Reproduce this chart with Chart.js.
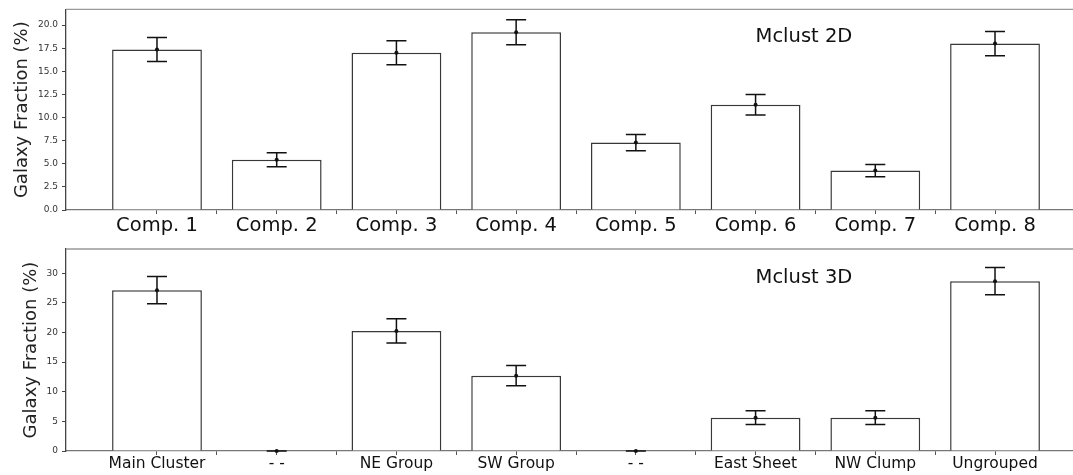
<!DOCTYPE html>
<html>
<head>
<meta charset="utf-8">
<script src="https://cdn.jsdelivr.net/npm/chart.js@4/dist/chart.umd.min.js"></script>
<style>
  html, body { margin: 0; padding: 0; background: #fff; width: 1073px; height: 475px; overflow: hidden; }
  .panel { position: absolute; left: 0; }
  #panel2d { top: 0; }
  #panel3d { top: 237px; }
</style>
</head>
<body>
<div class="panel" id="panel2d"><canvas id="chart2d" width="1086" height="237"></canvas></div>
<div class="panel" id="panel3d"><canvas id="chart3d" width="1086" height="238"></canvas></div>
<script>
// Mclust 2D components: galaxy fraction (%) and its uncertainty
const comps2d = ['Comp. 1', 'Comp. 2', 'Comp. 3', 'Comp. 4', 'Comp. 5', 'Comp. 6', 'Comp. 7', 'Comp. 8'];
const frac2d  = [17.37, 5.44, 17.0, 19.23, 7.3, 11.39, 4.26, 18.0];
const err2d   = [1.3, 0.75, 1.3, 1.36, 0.88, 1.1, 0.66, 1.32];
const yTicks2d = [0, 2.5, 5, 7.5, 10, 12.5, 15, 17.5, 20];

// Mclust 3D groups: galaxy fraction (%) and its uncertainty
const groups3d = ['Main Cluster', '- -', 'NE Group', 'SW Group', '- -', 'East Sheet', 'NW Clump', 'Ungrouped'];
const frac3d   = [27.14, 0, 20.27, 12.72, 0, 5.63, 5.63, 28.66];
const err3d    = [2.3, 0, 2.05, 1.7, 0, 1.15, 1.15, 2.3];
const yTicks3d = [0, 5, 10, 15, 20, 25, 30];

const FONT = 'DejaVu Sans';

// Error bars with caps and a centre dot, drawn in data space
const errorBars = {
  id: 'errorBars',
  afterDatasetsDraw(chart, args, opts) {
    const { ctx } = chart;
    const xs = chart.scales.x, ys = chart.scales.y;
    ctx.save();
    ctx.strokeStyle = '#111';
    ctx.fillStyle = '#111';
    ctx.lineWidth = 1.5;
    opts.values.forEach((v, i) => {
      const e = opts.errors[i];
      const x = xs.getPixelForValue(i);
      const yHi = ys.getPixelForValue(v + e);
      const yLo = ys.getPixelForValue(v - e);
      const cap = 10;
      ctx.beginPath();
      ctx.moveTo(x, yHi); ctx.lineTo(x, yLo);
      ctx.moveTo(x - cap, yHi); ctx.lineTo(x + cap, yHi);
      ctx.moveTo(x - cap, yLo); ctx.lineTo(x + cap, yLo);
      ctx.stroke();
      ctx.beginPath();
      ctx.arc(x, ys.getPixelForValue(v), 2, 0, Math.PI * 2);
      ctx.fill();
    });
    ctx.restore();
  }
};

// Top frame line of the axes box
const frame = {
  id: 'frame',
  afterDatasetsDraw(chart) {
    const { ctx, chartArea: a } = chart;
    ctx.save();
    ctx.strokeStyle = '#999';
    ctx.lineWidth = 1.3;
    ctx.beginPath();
    ctx.moveTo(a.left, a.top); ctx.lineTo(a.right, a.top);
    ctx.stroke();
    ctx.restore();
  }
};

// Panel annotation text, anchored at a category index and an axes fraction
const panelText = {
  id: 'panelText',
  afterDraw(chart, args, opts) {
    const { ctx, chartArea: a } = chart;
    const x = chart.scales.x.getPixelForValue(opts.at);
    const y = a.bottom - opts.frac * (a.bottom - a.top);
    ctx.save();
    ctx.font = '19.5px "' + FONT + '"';
    ctx.fillStyle = '#111';
    ctx.textAlign = 'left';
    ctx.textBaseline = 'middle';
    ctx.fillText(opts.text, x, y);
    ctx.restore();
  }
};

function makeChart(canvasId, cats, vals, errs, yTicks, cfg) {
  const points = vals.map((v, i) => ({ x: i, y: v }));
  // major ticks under each bar, minor ticks halfway between neighbours
  const tickVals = [];
  for (let i = 0; i < cats.length; i++) {
    tickVals.push(i);
    if (i < cats.length - 1) tickVals.push(i + 0.5);
  }
  return new Chart(document.getElementById(canvasId), {
    type: 'bar',
    data: {
      datasets: [{
        data: points,
        backgroundColor: '#ffffff',
        borderColor: '#383838',
        borderWidth: 1.5,
        borderSkipped: 'start',
        categoryPercentage: 1.0,
        // the bar ruler sees the half-step ticks, so 1.5 half-steps = 0.75 of a category
        barPercentage: 1.5
      }]
    },
    options: {
      responsive: false,
      animation: false,
      events: [],
      layout: { padding: { top: cfg.padTop, left: 0, right: 0, bottom: 0 } },
      plugins: {
        legend: { display: false },
        tooltip: { enabled: false },
        errorBars: { values: vals, errors: errs },
        panelText: { text: cfg.title, at: 5, frac: cfg.textFrac }
      },
      scales: {
        x: {
          type: 'linear',
          offset: false,
          min: -0.76,
          max: cats.length - 1 + 0.76,
          afterBuildTicks(scale) { scale.ticks = tickVals.map(v => ({ value: v })); },
          afterFit(scale) { scale.height = cfg.xHeight; },
          grid: { display: true, offset: false, drawOnChartArea: false, drawTicks: true, tickLength: 4, color: '#555', lineWidth: 1 },
          border: { display: true, color: '#777', width: 1.3 },
          ticks: {
            autoSkip: false,
            maxRotation: 0,
            padding: cfg.xPad,
            color: '#111',
            font: { family: FONT, size: cfg.xFont },
            callback: v => Number.isInteger(v) ? cats[v] : ''
          }
        },
        y: {
          min: 0,
          max: cfg.yMax,
          afterBuildTicks(scale) { scale.ticks = yTicks.map(v => ({ value: v })); },
          afterFit(scale) { scale.width = 66; },
          grid: { display: true, drawOnChartArea: false, drawTicks: true, tickLength: 4, color: '#444', lineWidth: 1 },
          border: { display: true, color: '#444', width: 1.3 },
          ticks: {
            padding: 4,
            color: '#333',
            font: { family: FONT, size: 9 },
            callback: cfg.yFmt
          },
          title: {
            display: true,
            text: 'Galaxy Fraction (%)',
            color: '#222',
            font: { family: FONT, size: 18 },
            padding: { top: cfg.titlePad, bottom: 0 }
          }
        }
      }
    },
    plugins: [frame, errorBars, panelText]
  });
}

makeChart('chart2d', comps2d, frac2d, err2d, yTicks2d, {
  title: 'Mclust 2D', textFrac: 0.865, yMax: 21.7, padTop: 8, xHeight: 27, xPad: 0, xFont: 19.5,
  titlePad: 12, yFmt: v => v.toFixed(1)
});

makeChart('chart3d', groups3d, frac3d, err3d, yTicks3d, {
  title: 'Mclust 3D', textFrac: 0.855, yMax: 34.1, padTop: 12, xHeight: 24, xPad: 0, xFont: 15.5,
  titlePad: 21, yFmt: v => String(v)
});
</script>
</body>
</html>
